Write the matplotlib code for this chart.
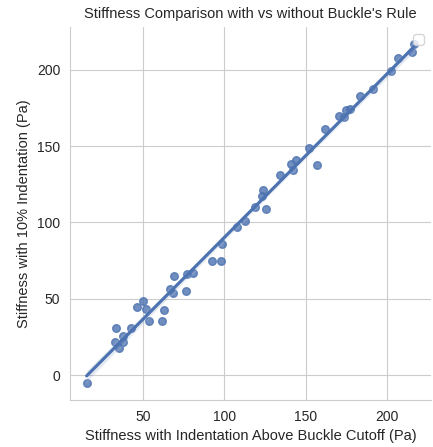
import numpy as np
import matplotlib
matplotlib.use('Agg')
import matplotlib.pyplot as plt
import seaborn as sns

# stiffness values (Pa)
stiff_cutoff = [15.4, 33.4, 32.8, 35.4, 37.5, 37.5, 42.4, 46.1, 50.0, 51.8,
                53.5, 61.8, 63.1, 66.6, 68.6, 68.8, 76.2, 76.8, 80.5, 92.2,
                97.9, 98.3, 107.6, 112.8, 119.0, 125.4, 123.7, 123.3, 134.0, 142.0,
                141.0, 143.8, 156.9, 152.0, 162.0, 170.6, 173.3, 174.7, 177.2, 183.5,
                191.3, 202.6, 206.5, 215.3, 216.7]
stiff_10pct = [-5.3, 30.7, 21.9, 18.0, 25.7, 21.9, 31.1, 44.9, 48.2, 43.2,
               35.7, 35.7, 42.5, 56.4, 53.7, 64.7, 54.8, 66.0, 66.9, 74.8,
               74.8, 86.2, 96.9, 101.1, 109.9, 108.6, 121.2, 117.3, 130.9, 134.2,
               138.2, 141.2, 137.5, 148.9, 161.2, 169.9, 168.9, 173.9, 174.3, 182.9,
               187.3, 199.3, 207.7, 212.0, 217.1]

sns.set_style('whitegrid')
plt.rcParams['font.family'] = ['Liberation Sans', 'DejaVu Sans']

fig = plt.figure(figsize=(4.33, 4.47), dpi=100)
ax = fig.add_axes([0.162, 0.105, 0.833, 0.835])

sns.regplot(x=stiff_cutoff, y=stiff_10pct, ax=ax, color='#4c72b0',
            scatter_kws={'s': 30})
ax.set_xlim(5.3, 226.8)
ax.set_ylim(-16.4, 228.2)
ax.set_xticks([50, 100, 150, 200])
ax.set_yticks([0, 50, 100, 150, 200])
ax.tick_params(labelsize=10)

ax.set_title("Stiffness Comparison with vs without Buckle's Rule", fontsize=10.5)
ax.set_xlabel('Stiffness with Indentation Above Buckle Cutoff (Pa)', fontsize=10.5)
ax.set_ylabel('Stiffness with 10% Indentation (Pa)', fontsize=10.5)
ax.legend(handles=[], loc='upper right')
sns.despine(ax=ax)

fig.savefig('out.png', dpi=100)
